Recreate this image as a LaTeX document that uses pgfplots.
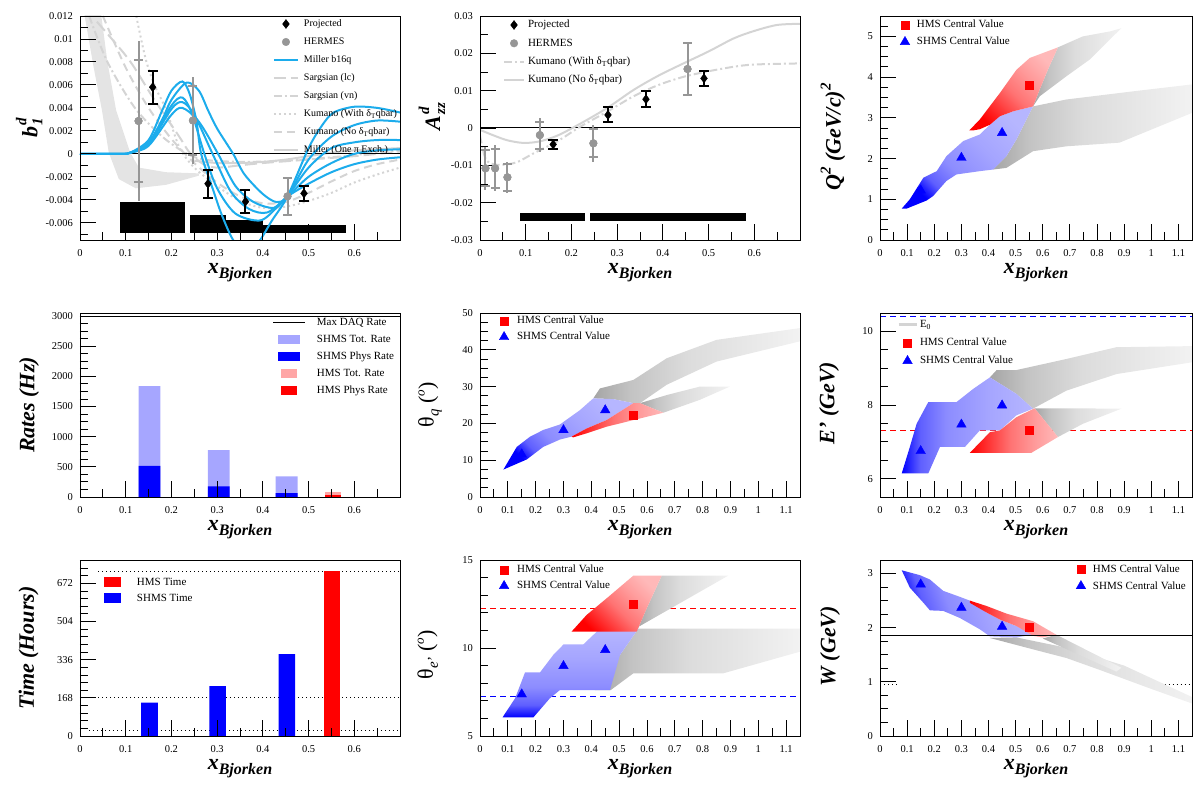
\documentclass[border=0pt]{standalone}
\usepackage{fontspec}
\setmainfont{Liberation Serif}
\usepackage{pgfplots}
\pgfplotsset{compat=1.18}
\newcommand\tickfont{\fontsize{10.5}{12}\selectfont}
\newcommand\lab{\fontsize{22}{24}\selectfont\bfseries\itshape}
\newcommand\sublab{\fontsize{15}{16}\selectfont\bfseries\itshape}
\newcommand\xbj{{\lab x\raisebox{-5pt}{\fontsize{16}{18}\selectfont\bfseries\itshape Bjorken}}}
\newcommand\slot[1]{\path[draw=none,fill=none] (0pt,-1pt) rectangle (#1,1pt);}
\definecolor{millerblue}{RGB}{28,172,236}
\definecolor{hermes}{RGB}{150,150,150}
\definecolor{theory}{RGB}{212,212,212}
\definecolor{bandg}{RGB}{228,228,228}
\definecolor{bdeep}{RGB}{0,0,255}
\definecolor{bA}{RGB}{95,95,255}
\definecolor{bB}{RGB}{140,140,255}
\definecolor{bC}{RGB}{165,165,255}
\definecolor{blight}{RGB}{182,182,255}
\definecolor{rdeep}{RGB}{255,0,0}
\definecolor{rA}{RGB}{255,45,45}
\definecolor{rB}{RGB}{255,115,115}
\definecolor{rC}{RGB}{255,155,155}
\definecolor{rlight}{RGB}{255,185,185}
\definecolor{gdark}{RGB}{165,165,165}
\definecolor{gA}{RGB}{195,195,195}
\definecolor{gB}{RGB}{220,220,220}
\definecolor{glight}{RGB}{242,242,242}
\definecolor{shmstot}{RGB}{166,166,255}
\definecolor{hmstot}{RGB}{255,166,166}
\pgfdeclarehorizontalshading{bshade}{100bp}{color(0bp)=(bdeep); color(25bp)=(bdeep); color(32bp)=(bA); color(42bp)=(bB); color(58bp)=(bC); color(75bp)=(blight); color(100bp)=(blight)}
\pgfdeclarehorizontalshading{rshade}{100bp}{color(0bp)=(rdeep); color(25bp)=(rdeep); color(34bp)=(rA); color(48bp)=(rB); color(62bp)=(rC); color(75bp)=(rlight); color(100bp)=(rlight)}
\pgfdeclarehorizontalshading{gshade}{100bp}{color(0bp)=(gdark); color(25bp)=(gdark); color(34bp)=(gA); color(48bp)=(gB); color(75bp)=(glight); color(100bp)=(glight)}
\pgfplotsset{
 rootax/.style={
  scale only axis, anchor=south west,
  axis line style={line width=0.9pt, black},
  tick align=inside, tick pos=left,
  major tick length=16pt, minor tick length=8pt,
  every tick/.append style={black, line width=0.9pt},
  ticklabel style={font=\tickfont},
  xticklabel style={inner sep=0pt, anchor=north, yshift=-9pt},
  yticklabel style={inner sep=0pt, anchor=east, xshift=-7pt},
  /pgf/number format/assume math mode=true,
  /pgf/number format/1000 sep={},
  scaled ticks=false,
  axis on top,
  xlabel={\xbj},
  xlabel style={at={(axis description cs:0.5,0)}, anchor=base, yshift=-34pt, inner sep=0pt},
  ylabel style={anchor=center, inner sep=0pt},
  legend cell align=left,
  legend style={draw=none, fill=none, inner sep=0pt, outer sep=0pt, anchor=north west, row sep=0pt},
 },
 xsmall/.style={xmin=0, xmax=0.7, xtick={0,0.1,0.2,0.3,0.4,0.5,0.6}, minor xtick={0.05,0.15,0.25,0.35,0.45,0.55,0.65}},
 xlarge/.style={xmin=0, xmax=1.15, xtick={0,0.1,0.2,0.3,0.4,0.5,0.6,0.7,0.8,0.9,1,1.1}, minor xtick={0.05,0.15,0.25,0.35,0.45,0.55,0.65,0.75,0.85,0.95,1.05,1.15}},
 hmsmark/.style={only marks, mark=square*, mark size=4pt, rdeep},
 shmsmark/.style={only marks, mark=triangle*, mark size=5.5pt, bdeep},
 bfill/.style={forget plot, draw=none, shade, shading=bshade, shading angle=#1},
 rfill/.style={forget plot, draw=none, shade, shading=rshade, shading angle=#1},
 gfill/.style={forget plot, draw=none, shade, shading=gshade, shading angle=#1},
 capbars/.style={error bars/.cd, y dir=both, y explicit, error mark options={rotate=90, #1, mark size=5pt, line width=2pt}, error bar style={line width=2pt, #1}},
}
\begin{document}
\begin{tikzpicture}
\path[use as bounding box] (0pt,0pt) rectangle (1200pt,800pt);

%% ---------------- Panel 1: b1^d
\begin{axis}[rootax, xsmall, at={(80pt,560pt)}, width=320pt, height=224pt,
 ymin=-0.0075, ymax=0.012,
 ytick={-0.006,-0.004,-0.002,0,0.002,0.004,0.006,0.008,0.01,0.012},
 minor ytick={-0.007,-0.005,-0.003,-0.001,0.001,0.003,0.005,0.007,0.009,0.011},
 yticklabel style={/pgf/number format/fixed, /pgf/number format/precision=3},
 ylabel={\lab b\kern1pt\rlap{\raisebox{11pt}{\sublab d}}\raisebox{-5pt}{\sublab 1}},
 ylabel style={at={(axis description cs:-0.159,0.5)}},
 legend style={at={(axis description cs:0.603,1.0045)}, font=\fontsize{10}{12}\selectfont, column sep=5pt, nodes={inner sep=0pt, text height=12pt, text depth=6pt}},
 legend image code/.code={\slot{24pt}\draw[mark repeat=2,mark phase=2,#1] plot coordinates {(0pt,0pt) (12pt,0pt) (24pt,0pt)};},
]
\addplot[forget plot, draw=none, fill=bandg] coordinates {(0.008,0.0125) (0.03,0.0075) (0.048,0.0038) (0.063,0.0001) (0.085,-0.0022) (0.122,-0.0030) (0.188,-0.0027) (0.26,-0.0019) (0.26,-0.0017) (0.188,-0.0016) (0.129,-0.0012) (0.11,0.0001) (0.079,0.0038) (0.06,0.008) (0.045,0.0125)} -- cycle;
\addplot[forget plot, fill=black, draw=none] coordinates {(0.088,-0.00685) (0.088,-0.0042) (0.23,-0.0042) (0.23,-0.00685)} -- cycle;
\addplot[forget plot, fill=black, draw=none] coordinates {(0.24,-0.00685) (0.24,-0.00535) (0.32,-0.00535) (0.32,-0.00685)} -- cycle;
\addplot[forget plot, fill=black, draw=none] coordinates {(0.32,-0.00685) (0.32,-0.00575) (0.40,-0.00575) (0.40,-0.00685)} -- cycle;
\addplot[forget plot, fill=black, draw=none] coordinates {(0.40,-0.00685) (0.40,-0.0062) (0.582,-0.0062) (0.582,-0.00685)} -- cycle;
\addplot[forget plot, theory, line width=2pt, smooth, dash pattern=on 12pt off 5pt] coordinates {(0.037,0.0115) (0.107,0.0082) (0.158,0.005) (0.217,0.0015) (0.24,0.0001) (0.27,-0.0009) (0.3,-0.0012) (0.35,-0.001) (0.4,-0.0008) (0.5,-0.0005) (0.6,-0.0002) (0.7,0.0002)};
\addplot[forget plot, theory, line width=2pt, smooth, dash pattern=on 8pt off 3pt on 2pt off 3pt] coordinates {(0.02,0.012) (0.06,0.008) (0.12,0.004) (0.18,0.0015) (0.23,0.0001) (0.27,-0.0005) (0.35,-0.0007) (0.45,-0.0006) (0.55,-0.0003) (0.65,0.0001) (0.7,0.0003)};
\addplot[forget plot, theory, line width=2pt, smooth, dash pattern=on 2pt off 3pt] coordinates {(0.123,0.012) (0.144,0.0082) (0.165,0.0058) (0.189,0.0038) (0.217,0.0006) (0.25,-0.0012) (0.3,-0.0028) (0.35,-0.0041) (0.4,-0.0047) (0.45,-0.0046) (0.5,-0.0041) (0.55,-0.0034) (0.6,-0.0025) (0.65,-0.0018) (0.7,-0.0012)};
\addplot[forget plot, theory, line width=2pt, smooth, dash pattern=on 8pt off 5pt] coordinates {(0.05,0.012) (0.1,0.0075) (0.15,0.004) (0.2,0.0013) (0.25,-0.0008) (0.3,-0.0025) (0.35,-0.0037) (0.4,-0.0043) (0.45,-0.0042) (0.5,-0.0034) (0.55,-0.0024) (0.6,-0.0015) (0.65,-0.0009) (0.7,-0.0005)};
\addplot[forget plot, theory, line width=2pt, smooth] coordinates {(0.25,-0.0006) (0.3,-0.0008) (0.35,-0.0008) (0.4,-0.0007) (0.45,-0.0005) (0.5,-0.0002) (0.55,0.0001) (0.6,0.0003) (0.7,0.0005)};
\addplot[forget plot, black, line width=1pt] coordinates {(0,0) (0.7,0)};
\addplot[forget plot, millerblue, line width=2pt, smooth] coordinates {(0,0) (0.09,0) (0.11,0.0001) (0.15,0.0012) (0.18,0.0038) (0.2,0.0055) (0.224,0.0063) (0.24,0.0052) (0.255,0.0028) (0.265,0) (0.29,-0.003) (0.31,-0.0053) (0.335,-0.0075) (0.365,-0.0088) (0.394,-0.0075) (0.42,-0.0058) (0.454,-0.0037) (0.5,0.0005) (0.53,0.0025) (0.555,0.0036) (0.6,0.0041) (0.65,0.004) (0.7,0.0036)};
\addplot[forget plot, millerblue, line width=2pt, smooth] coordinates {(0,0) (0.09,0) (0.11,0.0001) (0.15,0.001) (0.18,0.003) (0.2,0.0047) (0.233,0.0062) (0.26,0.0055) (0.28,0.0038) (0.3,0.0022) (0.335,0) (0.36,-0.0018) (0.4,-0.0035) (0.43,-0.0042) (0.454,-0.0037) (0.5,-0.0005) (0.55,0.0015) (0.6,0.0025) (0.65,0.0029) (0.7,0.0028)};
\addplot[forget plot, millerblue, line width=2pt, smooth] coordinates {(0,0) (0.09,0) (0.11,0.0001) (0.15,0.0009) (0.2,0.0042) (0.224,0.0049) (0.245,0.0035) (0.272,0) (0.3,-0.003) (0.34,-0.0052) (0.394,-0.0058) (0.43,-0.0047) (0.454,-0.0037) (0.5,-0.0012) (0.55,0.0005) (0.6,0.001) (0.65,0.0012) (0.7,0.0012)};
\addplot[forget plot, millerblue, line width=2pt, smooth] coordinates {(0,0) (0.09,0) (0.11,0.0001) (0.15,0.0008) (0.2,0.0039) (0.224,0.0045) (0.25,0.0034) (0.29,0) (0.33,-0.0033) (0.37,-0.0048) (0.41,-0.0051) (0.454,-0.0037) (0.5,-0.002) (0.55,-0.0008) (0.6,0) (0.65,0.0003) (0.7,0.0004)};
\addplot[forget plot, millerblue, line width=2pt, smooth] coordinates {(0,0) (0.09,0) (0.11,0.0001) (0.15,0.0007) (0.2,0.0034) (0.224,0.004) (0.26,0.0028) (0.302,0) (0.34,-0.0028) (0.38,-0.0042) (0.425,-0.0047) (0.454,-0.0037) (0.5,-0.0026) (0.55,-0.0016) (0.6,-0.0009) (0.65,-0.0005) (0.7,-0.0003)};
\addplot[forget plot, only marks, mark=*, mark size=3.8pt, hermes, error bars/.cd, y dir=both, y explicit, error mark=none, error bar style={line width=2pt, hermes}] coordinates {(0.128,0.00286) +- (0,0.0070) (0.247,0.0029) +- (0,0.0038) (0.454,-0.0037) +- (0,0.0016)};
\addplot[forget plot, only marks, mark=*, mark size=3.8pt, hermes, error bars/.cd, y dir=both, y explicit, error mark options={rotate=90, hermes, mark size=4.5pt, line width=2pt}, error bar style={line width=2pt, hermes}] coordinates {(0.128,0.00286) +- (0,0.0053) (0.247,0.0029) +- (0,0.003) (0.454,-0.0037) +- (0,0.0016)};
\addplot[forget plot, only marks, mark=diamond*, mark size=4.5pt, black, capbars=black] coordinates {(0.159,0.0058) +- (0,0.00145) (0.28,-0.0026) +- (0,0.00123) (0.362,-0.00416) +- (0,0.001) (0.49,-0.00344) +- (0,0.00064)};
\addlegendimage{only marks, mark=diamond*, mark size=4.5pt, black}
\addlegendentry{Projected}
\addlegendimage{only marks, mark=*, mark size=3.8pt, hermes}
\addlegendentry{HERMES}
\addlegendimage{millerblue, line width=2pt}
\addlegendentry{Miller b16q}
\addlegendimage{theory, line width=2pt, dash pattern=on 12pt off 5pt}
\addlegendentry{Sargsian (lc)}
\addlegendimage{theory, line width=2pt, dash pattern=on 8pt off 3pt on 2pt off 3pt}
\addlegendentry{Sargsian (vn)}
\addlegendimage{theory, line width=2pt, dash pattern=on 2pt off 3pt}
\addlegendentry{Kumano (With δ\textsubscript{T}qbar)}
\addlegendimage{theory, line width=2pt, dash pattern=on 8pt off 5pt}
\addlegendentry{Kumano (No δ\textsubscript{T}qbar)}
\addlegendimage{theory, line width=2pt}
\addlegendentry{Miller (One π Exch.)}
\end{axis}

%% ---------------- Panel 2: Azz^d
\begin{axis}[rootax, xsmall, at={(480pt,560pt)}, width=320pt, height=224pt,
 ymin=-0.03, ymax=0.03,
 ytick={-0.03,-0.02,-0.01,0,0.01,0.02,0.03},
 minor ytick={-0.025,-0.015,-0.005,0.005,0.015,0.025},
 yticklabel style={/pgf/number format/fixed, /pgf/number format/precision=2},
 ylabel={\lab A\kern1pt\rlap{\raisebox{11pt}{\sublab d}}\raisebox{-5pt}{\sublab zz}},
 ylabel style={at={(axis description cs:-0.15,0.55)}},
 legend style={at={(axis description cs:0.072,1.0007)}, font=\fontsize{11}{13}\selectfont, column sep=3pt, nodes={inner sep=0pt, text height=12.15pt, text depth=6.15pt}},
 legend image code/.code={\slot{20pt}\draw[mark repeat=2,mark phase=2,#1] plot coordinates {(0pt,0pt) (10pt,0pt) (20pt,0pt)};},
]
\addplot[forget plot, black, line width=1pt] coordinates {(0,0) (0.7,0)};
\addplot[forget plot, theory, line width=2pt, smooth] coordinates {(0,-0.0005) (0.03,-0.002) (0.06,-0.0033) (0.095,-0.004) (0.13,-0.0036) (0.17,-0.002) (0.22,0.0012) (0.28,0.0055) (0.336,0.0102) (0.39,0.014) (0.445,0.0173) (0.5,0.0205) (0.555,0.024) (0.6,0.026) (0.65,0.0276) (0.7,0.0279)};
\addplot[forget plot, theory, line width=2pt, smooth, dash pattern=on 8pt off 3pt on 2pt off 3pt] coordinates {(0,-0.002) (0.01,-0.0075) (0.02,-0.0093) (0.044,-0.0099) (0.08,-0.0092) (0.117,-0.0068) (0.17,-0.0035) (0.22,0.0004) (0.28,0.0045) (0.336,0.0085) (0.39,0.0115) (0.445,0.0137) (0.5,0.0152) (0.555,0.0164) (0.6,0.017) (0.7,0.0173)};
\addplot[forget plot, fill=black, draw=none] coordinates {(0.088,-0.0248) (0.088,-0.0229) (0.23,-0.0229) (0.23,-0.0248)} -- cycle;
\addplot[forget plot, fill=black, draw=none] coordinates {(0.24,-0.0248) (0.24,-0.0229) (0.582,-0.0229) (0.582,-0.0248)} -- cycle;
\addplot[forget plot, only marks, mark=*, mark size=3.8pt, hermes, error bars/.cd, y dir=both, y explicit, error mark=none, error bar style={line width=2pt, hermes}] coordinates {(0.012,-0.0108) +- (0,0.0058) (0.033,-0.0108) +- (0,0.0062) (0.06,-0.0132) +- (0,0.0042) (0.131,-0.0019) +- (0,0.0046) (0.248,-0.0041) +- (0,0.005) (0.454,0.0158) +- (0,0.0069)};
\addplot[forget plot, only marks, mark=*, mark size=3.8pt, hermes, error bars/.cd, y dir=both, y explicit, error mark options={rotate=90, hermes, mark size=4.5pt, line width=2pt}, error bar style={line width=2pt, hermes}] coordinates {(0.012,-0.0108) +- (0,0.0048) (0.033,-0.0108) +- (0,0.0052) (0.06,-0.0132) +- (0,0.0036) (0.131,-0.0019) +- (0,0.0036) (0.248,-0.0041) +- (0,0.0038) (0.454,0.0158) +- (0,0.0069)};
\addplot[forget plot, only marks, mark=diamond*, mark size=4.5pt, black, capbars=black] coordinates {(0.16,-0.0044) +- (0,0.0011) (0.28,0.0035) +- (0,0.002) (0.363,0.0077) +- (0,0.0021) (0.49,0.0133) +- (0,0.002)};
\addlegendimage{only marks, mark=diamond*, mark size=4.5pt, black}
\addlegendentry{Projected}
\addlegendimage{only marks, mark=*, mark size=3.8pt, hermes}
\addlegendentry{HERMES}
\addlegendimage{theory, line width=2pt, dash pattern=on 8pt off 3pt on 2pt off 3pt}
\addlegendentry{Kumano (With δ\textsubscript{T}qbar)}
\addlegendimage{theory, line width=2pt}
\addlegendentry{Kumano (No δ\textsubscript{T}qbar)}
\end{axis}

%% ---------------- Panel 3: Q2
\begin{axis}[rootax, xlarge, at={(880pt,560pt)}, width=312pt, height=224pt,
 ymin=0, ymax=5.5, ytick={0,1,2,3,4,5},
 minor ytick={0.25,0.5,0.75,1.25,1.5,1.75,2.25,2.5,2.75,3.25,3.5,3.75,4.25,4.5,4.75,5.25,5.5},
 ylabel={\lab Q\raisebox{10pt}{\sublab 2} (GeV/c)\raisebox{10pt}{\sublab 2}},
 ylabel style={at={(axis description cs:-0.151,0.46)}},
 legend style={at={(axis description cs:0.048,0.998)}, font=\fontsize{11}{13}\selectfont, column sep=2pt, nodes={inner sep=0pt, text height=11.5pt, text depth=5.5pt}},
 legend image code/.code={\slot{20pt}\draw[mark repeat=2,mark phase=2,#1] plot coordinates {(0pt,0pt) (10pt,0pt) (20pt,0pt)};},
]
\addplot[gfill=0] coordinates {(0.564,3.28) (0.687,3.45) (0.933,3.65) (1.15,3.82) (1.15,3.12) (1.0,2.71) (0.883,2.39) (0.687,2.3) (0.564,2.18) (0.466,1.77) (0.417,1.73) (0.466,2.06) (0.503,2.47)} -- cycle;
\addplot[gfill=0] coordinates {(0.656,4.73) (0.748,5.0) (0.847,5.12) (0.89,5.2) (0.859,5.0) (0.773,4.43) (0.687,4.02) (0.589,3.53) (0.564,3.28) (0.589,3.7) (0.62,4.2)} -- cycle;
\addplot[bfill=45] coordinates {(0.08,0.77) (0.11,1.0) (0.16,1.53) (0.209,1.69) (0.245,2.06) (0.307,2.43) (0.368,2.59) (0.405,2.83) (0.442,3.04) (0.491,3.16) (0.564,3.28) (0.503,2.47) (0.466,2.06) (0.417,1.73) (0.368,1.69) (0.282,1.61) (0.245,1.45) (0.196,1.08) (0.172,0.97) (0.098,0.77)} -- cycle;
\addplot[rfill=45] coordinates {(0.329,2.69) (0.368,2.96) (0.442,3.61) (0.503,4.18) (0.552,4.47) (0.656,4.73) (0.62,4.2) (0.589,3.7) (0.564,3.28) (0.491,3.16) (0.442,3.04) (0.405,2.83) (0.368,2.72) (0.343,2.69)} -- cycle;
\addplot[forget plot, hmsmark] coordinates {(0.55,3.79)};
\addplot[forget plot, shmsmark] coordinates {(0.15,1.22) (0.30,2.02) (0.45,2.63)};
\addlegendimage{hmsmark}
\addlegendentry{HMS Central Value}
\addlegendimage{shmsmark}
\addlegendentry{SHMS Central Value}
\end{axis}

%% ---------------- Panel 4: Rates
\begin{axis}[rootax, xsmall, at={(80pt,303pt)}, width=320pt, height=184pt,
 ymin=0, ymax=3050, ytick={0,500,1000,1500,2000,2500,3000},
 minor ytick={125,250,375,625,750,875,1125,1250,1375,1625,1750,1875,2125,2250,2375,2625,2750,2875},
 ylabel={\lab Rates (Hz)},
 ylabel style={at={(axis description cs:-0.159,0.5)}},
 legend style={at={(axis description cs:0.603,0.997)}, font=\fontsize{11}{13}\selectfont, column sep=11pt, nodes={inner sep=0pt, text height=11.5pt, text depth=5.5pt}},
 legend image code/.code={\slot{32pt}\draw[mark repeat=2,mark phase=2,#1] plot coordinates {(0pt,0pt) (16pt,0pt) (32pt,0pt)};},
]
\addplot[forget plot, ybar, bar width=0.048, bar shift=0pt, fill=shmstot, draw=none] coordinates {(0.152,1837) (0.3035,775) (0.452,343)};
\addplot[forget plot, ybar, bar width=0.036, bar shift=0pt, fill=hmstot, draw=none] coordinates {(0.553,77)};
\addplot[forget plot, ybar, bar width=0.048, bar shift=0pt, fill=bdeep, draw=none] coordinates {(0.152,515) (0.3035,177) (0.452,66)};
\addplot[forget plot, ybar, bar width=0.036, bar shift=0pt, fill=rdeep, draw=none] coordinates {(0.553,28)};
\addplot[forget plot, black, line width=1pt] coordinates {(0,3000) (0.7,3000)};
\addlegendimage{black, line width=1pt}
\addlegendentry{Max DAQ Rate}
\addlegendimage{legend image code/.code={\slot{32pt}\fill[shmstot, draw=none] (5pt,-4.5pt) rectangle (27pt,4.5pt);}}
\addlegendentry{SHMS Tot. Rate}
\addlegendimage{legend image code/.code={\slot{32pt}\fill[bdeep, draw=none] (5pt,-4.5pt) rectangle (27pt,4.5pt);}}
\addlegendentry{SHMS Phys Rate}
\addlegendimage{legend image code/.code={\slot{32pt}\fill[hmstot, draw=none] (8pt,-4.5pt) rectangle (24pt,4.5pt);}}
\addlegendentry{HMS Tot. Rate}
\addlegendimage{legend image code/.code={\slot{32pt}\fill[rdeep, draw=none] (8pt,-4.5pt) rectangle (24pt,4.5pt);}}
\addlegendentry{HMS Phys Rate}
\end{axis}

%% ---------------- Panel 5: theta_q
\begin{axis}[rootax, xlarge, at={(480pt,303pt)}, width=320pt, height=184pt,
 ymin=0, ymax=50, ytick={0,10,20,30,40,50},
 minor ytick={2.5,5,7.5,12.5,15,17.5,22.5,25,27.5,32.5,35,37.5,42.5,45,47.5},
 ylabel={\fontsize{22}{24}\selectfont θ\raisebox{-5pt}{\fontsize{15}{16}\selectfont\itshape q} (\raisebox{9pt}{\fontsize{13}{14}\selectfont\itshape o})},
 ylabel style={at={(axis description cs:-0.156,0.5)}},
 legend style={at={(axis description cs:0.044,1.0)}, font=\fontsize{11}{13}\selectfont, column sep=3pt, nodes={inner sep=0pt, text height=11pt, text depth=5pt}},
 legend image code/.code={\slot{20pt}\draw[mark repeat=2,mark phase=2,#1] plot coordinates {(0pt,0pt) (10pt,0pt) (20pt,0pt)};},
]
\addplot[gfill=0] coordinates {(0.407,26.8) (0.431,29.5) (0.551,31.8) (0.671,37.7) (0.85,42.7) (1.15,45.9) (1.15,42.3) (0.85,36.8) (0.671,30.5) (0.575,25.5) (0.551,25.5) (0.479,26.6)} -- cycle;
\addplot[gfill=0] coordinates {(0.575,25.5) (0.671,27.7) (0.79,30) (0.898,30) (0.79,26.4) (0.659,22.9)} -- cycle;
\addplot[bfill=45] coordinates {(0.084,7.45) (0.132,13.6) (0.18,16.4) (0.227,18.2) (0.287,19.7) (0.359,23.6) (0.407,26.8) (0.479,26.6) (0.551,25.5) (0.455,20.9) (0.383,18.6) (0.329,16.4) (0.287,15.6) (0.227,13.6) (0.168,10.2)} -- cycle;
\addplot[rfill=0] coordinates {(0.329,16.4) (0.383,18.6) (0.455,20.9) (0.551,25.5) (0.575,25.5) (0.659,22.9) (0.551,20.9) (0.455,19.1) (0.383,17.3) (0.335,16.2)} -- cycle;
\addplot[forget plot, hmsmark] coordinates {(0.55,22.3)};
\addplot[forget plot, shmsmark] coordinates {(0.15,11.6) (0.30,18.2) (0.45,23.6)};
\addlegendimage{hmsmark}
\addlegendentry{HMS Central Value}
\addlegendimage{shmsmark}
\addlegendentry{SHMS Central Value}
\end{axis}

%% ---------------- Panel 6: E'
\begin{axis}[rootax, xlarge, at={(880pt,303pt)}, width=312pt, height=184pt,
 ymin=5.5, ymax=10.5, ytick={6,8,10},
 minor ytick={5.5,6.5,7,7.5,8.5,9,9.5,10.5},
 ylabel={\lab E' (GeV)},
 ylabel style={at={(axis description cs:-0.163,0.51)}},
 legend style={at={(axis description cs:0.0545,0.984)}, font=\fontsize{11}{13}\selectfont, column sep=2pt, nodes={inner sep=0pt, text height=12pt, text depth=6pt}},
 legend image code/.code={\slot{18pt}\draw[mark repeat=2,mark phase=2,#1] plot coordinates {(0pt,0pt) (9pt,0pt) (18pt,0pt)};},
]
\addplot[forget plot, bdeep, line width=1pt, dash pattern=on 6pt off 4pt] coordinates {(0,10.4) (1.15,10.4)};
\addplot[forget plot, rdeep, line width=1pt, dash pattern=on 6pt off 4pt] coordinates {(0,7.31) (1.15,7.31)};
\addplot[gfill=0] coordinates {(0.405,8.75) (0.43,8.95) (0.503,8.95) (0.687,9.25) (0.871,9.57) (1.15,9.6) (1.15,9.16) (0.871,8.84) (0.687,8.39) (0.564,7.9) (0.503,8.3)} -- cycle;
\addplot[gfill=0] coordinates {(0.57,7.91) (0.687,7.91) (0.89,7.9) (0.748,7.49) (0.656,7.13)} -- cycle;
\addplot[bfill=0] coordinates {(0.08,6.14) (0.11,6.86) (0.135,7.49) (0.178,8.08) (0.282,8.08) (0.344,8.44) (0.405,8.75) (0.503,8.3) (0.564,7.9) (0.503,7.72) (0.442,7.31) (0.368,7.31) (0.313,6.86) (0.221,6.86) (0.178,6.14)} -- cycle;
\addplot[rfill=0] coordinates {(0.331,6.7) (0.405,7.26) (0.442,7.31) (0.503,7.67) (0.57,7.91) (0.656,7.13) (0.558,6.7)} -- cycle;
\addplot[forget plot, hmsmark] coordinates {(0.55,7.31)};
\addplot[forget plot, shmsmark] coordinates {(0.15,6.75) (0.30,7.47) (0.45,7.99)};
\addlegendimage{theory, line width=3pt}
\addlegendentry{E\textsubscript{0}}
\addlegendimage{hmsmark}
\addlegendentry{HMS Central Value}
\addlegendimage{shmsmark}
\addlegendentry{SHMS Central Value}
\end{axis}

%% ---------------- Panel 7: Time
\begin{axis}[rootax, xsmall, at={(80pt,64pt)}, width=320pt, height=176pt,
 ymin=0, ymax=775, ytick={0,168,336,504,672},
 minor ytick={33.6,67.2,100.8,134.4,201.6,235.2,268.8,302.4,369.6,403.2,436.8,470.4,537.6,571.2,604.8,638.4,705.6,739.2,772.8},
 ylabel={\lab Time (Hours)},
 ylabel style={at={(axis description cs:-0.161,0.5)}},
 legend style={at={(axis description cs:0.075,0.920)}, font=\fontsize{11}{13}\selectfont, column sep=16pt, nodes={inner sep=0pt, text height=11pt, text depth=5pt}},
]
\addplot[forget plot, black, line width=1pt, dash pattern=on 1.2pt off 2.8pt] coordinates {(0.04,726) (0.7,726)};
\addplot[forget plot, black, line width=1pt, dash pattern=on 1.2pt off 2.8pt] coordinates {(0.04,168) (0.7,168)};
\addplot[forget plot, black, line width=1pt, dash pattern=on 1.2pt off 2.8pt] coordinates {(0.02,26) (0.7,26)};
\addplot[forget plot, ybar, bar width=0.0365, bar shift=0pt, fill=bdeep, draw=none] coordinates {(0.152,146.7) (0.301,220) (0.4526,361)};
\addplot[forget plot, ybar, bar width=0.0365, bar shift=0pt, fill=rdeep, draw=none] coordinates {(0.551,728)};
\addlegendimage{legend image code/.code={\fill[rdeep, draw=none] (0pt,-5pt) rectangle (17pt,5pt);}}
\addlegendentry{HMS Time}
\addlegendimage{legend image code/.code={\fill[bdeep, draw=none] (0pt,-5pt) rectangle (17pt,5pt);}}
\addlegendentry{SHMS Time}
\end{axis}

%% ---------------- Panel 8: theta_e'
\begin{axis}[rootax, xlarge, at={(480pt,64pt)}, width=320pt, height=176pt,
 ymin=5, ymax=15, ytick={5,10,15},
 minor ytick={6,7,8,9,11,12,13,14},
 ylabel={\fontsize{22}{24}\selectfont θ\raisebox{-5pt}{\fontsize{15}{16}\selectfont\itshape e'} (\raisebox{9pt}{\fontsize{13}{14}\selectfont\itshape o})},
 ylabel style={at={(axis description cs:-0.163,0.46)}},
 legend style={at={(axis description cs:0.044,0.989)}, font=\fontsize{11}{13}\selectfont, column sep=3pt, nodes={inner sep=0pt, text height=11pt, text depth=5pt}},
 legend image code/.code={\slot{20pt}\draw[mark repeat=2,mark phase=2,#1] plot coordinates {(0pt,0pt) (10pt,0pt) (20pt,0pt)};},
]
\addplot[forget plot, rdeep, line width=1pt, dash pattern=on 6pt off 4pt] coordinates {(0,12.25) (1.15,12.25)};
\addplot[forget plot, bdeep, line width=1pt, dash pattern=on 6pt off 4pt] coordinates {(0,7.27) (1.15,7.27)};
\addplot[gfill=0] coordinates {(0.569,11.1) (1.15,11.1) (1.15,9.79) (0.874,8.56) (0.551,8.56) (0.47,7.61) (0.413,7.61) (0.45,8.5) (0.503,9.6)} -- cycle;
\addplot[gfill=0] coordinates {(0.653,14.11) (0.892,14.11) (0.569,11.2) (0.563,10.93) (0.599,12.25)} -- cycle;
\addplot[bfill=90] coordinates {(0.081,6.06) (0.126,7.14) (0.162,8.62) (0.216,8.62) (0.263,9.6) (0.3,10.2) (0.371,10.2) (0.431,11.1) (0.569,11.1) (0.503,9.6) (0.467,7.61) (0.287,7.61) (0.251,7.14) (0.192,6.06)} -- cycle;
\addplot[rfill=45] coordinates {(0.329,10.93) (0.383,11.875) (0.455,12.82) (0.551,14.11) (0.653,14.11) (0.599,12.25) (0.563,10.93)} -- cycle;
\addplot[forget plot, hmsmark] coordinates {(0.55,12.5)};
\addplot[forget plot, shmsmark] coordinates {(0.15,7.37) (0.30,8.98) (0.45,9.89)};
\addlegendimage{hmsmark}
\addlegendentry{HMS Central Value}
\addlegendimage{shmsmark}
\addlegendentry{SHMS Central Value}
\end{axis}

%% ---------------- Panel 9: W
\begin{axis}[rootax, xlarge, at={(880pt,64pt)}, width=312pt, height=176pt,
 ymin=0, ymax=3.25, ytick={0,1,2,3},
 minor ytick={0.25,0.5,0.75,1.25,1.5,1.75,2.25,2.5,2.75,3.25},
 ylabel={\lab W (GeV)},
 ylabel style={at={(axis description cs:-0.16,0.51)}},
 legend style={at={(axis description cs:0.612,0.997)}, font=\fontsize{11}{13}\selectfont, column sep=2pt, nodes={inner sep=0pt, text height=11.5pt, text depth=5.5pt}},
 legend image code/.code={\slot{20pt}\draw[mark repeat=2,mark phase=2,#1] plot coordinates {(0pt,0pt) (10pt,0pt) (20pt,0pt)};},
]
\addplot[forget plot, black, line width=1pt, dash pattern=on 1.2pt off 2.8pt] coordinates {(0,0.946) (0.06,0.946)};
\addplot[forget plot, black, line width=1pt, dash pattern=on 1.2pt off 2.8pt] coordinates {(1.02,0.946) (1.15,0.946)};
\addplot[gfill=0] coordinates {(0.503,1.82) (0.687,1.63) (0.9,1.3) (1.15,0.72) (1.15,0.6) (0.994,0.88) (0.81,1.22) (0.687,1.44) (0.564,1.6) (0.405,1.81)} -- cycle;
\addplot[gfill=0] coordinates {(0.65,1.87) (0.89,1.26) (0.871,1.19) (0.6,1.8)} -- cycle;
\addplot[bfill=20] coordinates {(0.08,3.06) (0.147,2.97) (0.184,2.89) (0.233,2.68) (0.294,2.57) (0.331,2.5) (0.393,2.28) (0.442,2.15) (0.503,2.03) (0.564,1.87) (0.503,1.82) (0.405,1.84) (0.368,1.97) (0.294,2.18) (0.233,2.31) (0.184,2.32) (0.16,2.46) (0.11,2.74)} -- cycle;
\addplot[rfill=0] coordinates {(0.331,2.5) (0.393,2.4) (0.466,2.26) (0.564,2.12) (0.65,1.87) (0.6,1.82) (0.564,1.85) (0.503,2.03) (0.442,2.15) (0.393,2.28) (0.331,2.46)} -- cycle;
\addplot[forget plot, black, line width=1pt] coordinates {(0,1.855) (1.15,1.855)};
\addplot[forget plot, hmsmark] coordinates {(0.55,2.01)};
\addplot[forget plot, shmsmark] coordinates {(0.15,2.8) (0.30,2.37) (0.45,2.02)};
\addlegendimage{hmsmark}
\addlegendentry{HMS Central Value}
\addlegendimage{shmsmark}
\addlegendentry{SHMS Central Value}
\end{axis}
\end{tikzpicture}
\end{document}
